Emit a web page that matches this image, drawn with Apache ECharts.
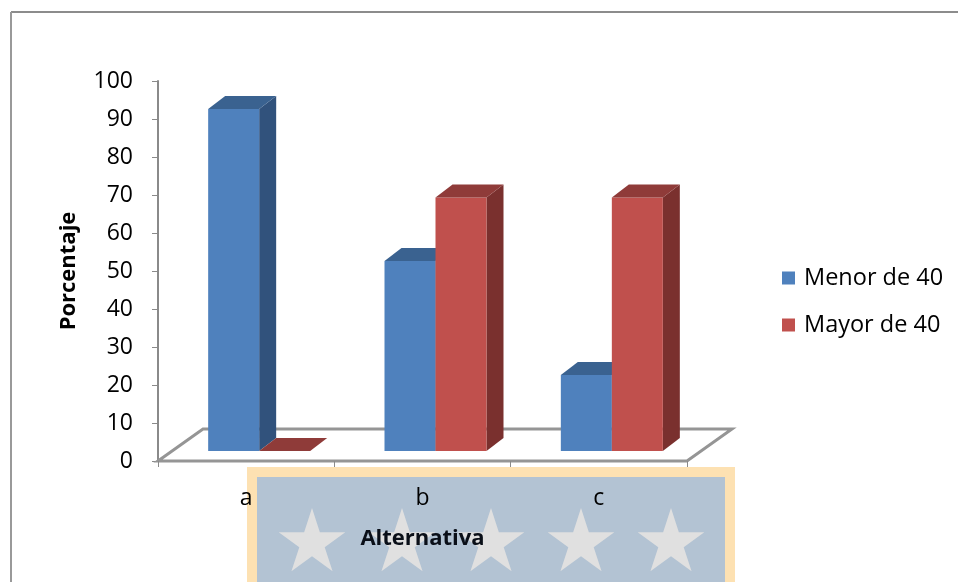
<!DOCTYPE html>
<html>
<head>
<meta charset="utf-8">
<script src="https://cdn.jsdelivr.net/npm/echarts@6/dist/echarts.min.js"></script>
<style>html,body{margin:0;padding:0;background:#fff}#chart{width:958px;height:582px}</style>
</head>
<body>
<div id="chart"></div>
<script>
const categories = ['a', 'b', 'c'];
const menorDe40 = [90, 50, 20];
const mayorDe40 = [0, 66.7, 66.7];
const yTicks = { min: 0, max: 100, interval: 10 };

const FONT = '"Open Sans"';
const AXIS_GRAY = '#8a8a8a';
const BLUE = '#4f81bd', RED = '#c0504d';

// Oblique projection used for the pseudo-3D columns and floor
const BASE_LIFT = 10, BAR_W = 51, SIDE_DX = 17, SIDE_DY = 13;
const FLOOR_DX = 45, FLOOR_DY = 32;

function columnRenderer(offset, front, top, side) {
  return function (params, api) {
    const p = api.coord([api.value(0), api.value(1)]);
    const base = api.coord([api.value(0), 0]);
    const x0 = p[0] + offset, x1 = x0 + BAR_W;
    const yTop = p[1] - BASE_LIFT, yBase = base[1] - BASE_LIFT;
    const children = [];
    if (yBase - yTop > 0.5) {
      children.push({
        type: 'polygon',
        shape: { points: [[x1, yTop], [x1 + SIDE_DX, yTop - SIDE_DY], [x1 + SIDE_DX, yBase - SIDE_DY], [x1, yBase]] },
        style: { fill: side }
      });
      children.push({
        type: 'rect',
        shape: { x: x0, y: yTop, width: BAR_W, height: yBase - yTop },
        style: { fill: front }
      });
    }
    children.push({
      type: 'polygon',
      shape: { points: [[x0, yTop], [x0 + SIDE_DX, yTop - SIDE_DY], [x1 + SIDE_DX, yTop - SIDE_DY], [x1, yTop]] },
      style: { fill: top }
    });
    return { type: 'group', children };
  };
}

function floorRenderer(params, api) {
  const c = api.coord([0, 0]);
  const band = api.size([1, 0])[0];
  const l = c[0] - band / 2, r = l + band * categories.length, y = c[1];
  return {
    type: 'polygon',
    shape: { points: [[l, y], [l + FLOOR_DX, y - FLOOR_DY], [r + FLOOR_DX, y - FLOOR_DY], [r, y]] },
    style: { fill: '#fff', stroke: '#959595', lineWidth: 3 }
  };
}

// Star banner along the bottom edge
function starPoints(cx, cy, R) {
  const pts = [];
  for (let i = 0; i < 10; i++) {
    const rad = i % 2 ? R * 0.382 : R;
    const a = -Math.PI / 2 + i * Math.PI / 5;
    pts.push([cx + rad * Math.cos(a), cy + rad * Math.sin(a)]);
  }
  return pts;
}
const starCentres = [312, 402, 491, 581, 671];
const banner = [
  { type: 'rect', z: -3, shape: { x: 247, y: 467, width: 488, height: 115 }, style: { fill: '#fde1b2' } },
  { type: 'rect', z: -2, shape: { x: 257, y: 477, width: 468, height: 105 }, style: { fill: '#b3c3d3' } }
].concat(starCentres.map(x => ({
  type: 'polygon', z: -1, shape: { points: starPoints(x, 543, 35) }, style: { fill: '#e0e0e0' }
})));
const frame = [
  { type: 'line', z: -4, shape: { x1: 11, y1: 12, x2: 958, y2: 12 }, style: { stroke: '#8c8c8c', lineWidth: 2 } },
  { type: 'line', z: -4, shape: { x1: 11, y1: 12, x2: 11, y2: 582 }, style: { stroke: '#999', lineWidth: 2 } }
];

const chart = echarts.init(document.getElementById('chart'), null, { renderer: 'canvas' });
chart.setOption({
  animation: false,
  textStyle: { fontFamily: FONT },
  graphic: { elements: frame.concat(banner) },
  grid: { left: 158, top: 81, width: 529, height: 380 },
  legend: {
    data: ['Menor de 40', 'Mayor de 40'],
    orient: 'vertical', left: 777, top: 261,
    itemWidth: 13, itemHeight: 13, itemGap: 23,
    icon: 'rect',
    textStyle: { fontFamily: FONT, fontSize: 23.5, color: '#000', padding: [0, 0, 0, 4] }
  },
  xAxis: {
    type: 'category',
    data: categories,
    name: 'Alternativa',
    nameLocation: 'middle',
    nameGap: 67,
    nameTextStyle: { fontFamily: FONT, fontWeight: 'bold', fontSize: 22, color: '#0a0f18' },
    axisLine: { show: false },
    axisTick: { show: true, length: 6, alignWithLabel: false, lineStyle: { color: AXIS_GRAY, width: 1 } },
    axisLabel: { fontFamily: FONT, fontSize: 23, color: '#000', margin: 26 },
    z: 5
  },
  yAxis: {
    type: 'value',
    min: yTicks.min, max: yTicks.max, interval: yTicks.interval,
    name: 'Porcentaje',
    nameLocation: 'middle',
    nameGap: 78,
    nameRotate: 90,
    nameTextStyle: { fontFamily: FONT, fontWeight: 'bold', fontSize: 22, color: '#000' },
    splitLine: { show: false },
    axisLine: { show: true, lineStyle: { color: AXIS_GRAY, width: 2 } },
    axisTick: { show: true, length: 6, lineStyle: { color: AXIS_GRAY, width: 1 } },
    axisLabel: { fontFamily: FONT, fontSize: 23, color: '#000', margin: 25, padding: [7, 0, 0, 0] }
  },
  series: [
    {
      name: 'Piso', type: 'custom', renderItem: floorRenderer, clip: false, silent: true, z: 1,
      data: [[0, 0]], encode: { x: 0, y: 1 }
    },
    {
      name: 'Menor de 40', type: 'custom', z: 2, clip: false,
      itemStyle: { color: BLUE },
      renderItem: columnRenderer(-38, BLUE, '#3a6290', '#31527c'),
      data: categories.map((c, i) => [i, menorDe40[i]]), encode: { x: 0, y: 1 }
    },
    {
      name: 'Mayor de 40', type: 'custom', z: 3, clip: false,
      itemStyle: { color: RED },
      renderItem: columnRenderer(13, RED, '#8f3b39', '#7a302e'),
      data: categories.map((c, i) => [i, mayorDe40[i]]), encode: { x: 0, y: 1 }
    }
  ]
});
</script>
</body>
</html>
